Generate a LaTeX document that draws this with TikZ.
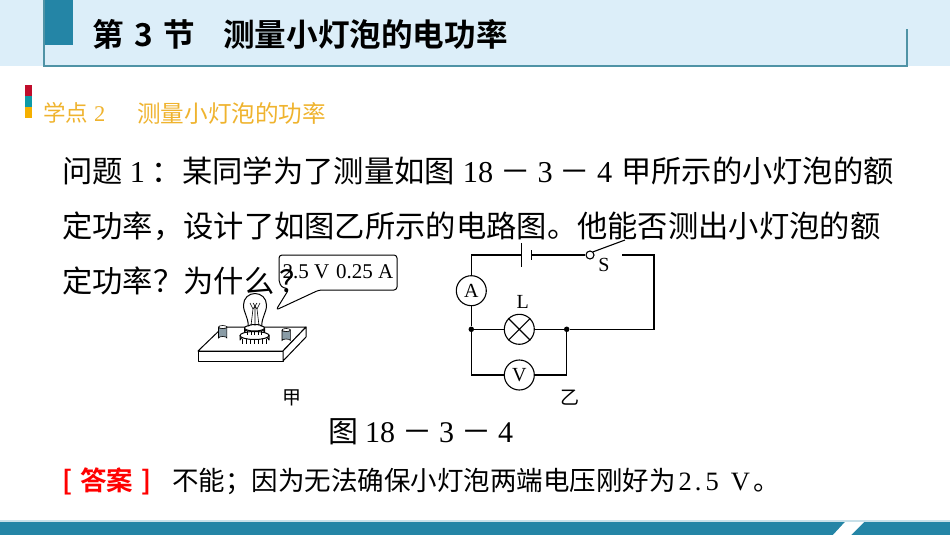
\documentclass[tikz,border=0pt]{standalone}
\usepackage{fontspec}
\setmainfont{Liberation Serif}
\newfontfamily\cjk{Noto Sans CJK SC}
\newfontfamily\cjkb{Noto Sans CJK SC Bold}
\definecolor{hdrbg}{HTML}{DCEEF9}
\definecolor{teal1}{HTML}{2485A6}
\definecolor{frameln}{HTML}{4F93A6}
\definecolor{gold1}{HTML}{EFB32E}
\definecolor{red1}{HTML}{C00D2C}
\definecolor{teal2}{HTML}{0E9AA7}
\definecolor{yel1}{HTML}{F5B000}
\definecolor{cylfill}{HTML}{8A9CA6}
\newcommand{\fs}[1]{\fontsize{#1}{#1}\selectfont}
\newcommand{\dnum}{{\rmfamily 18}\hspace{7pt}{\cjk －}\hspace{7pt}{\rmfamily 3}\hspace{7pt}{\cjk －}\hspace{7pt}{\rmfamily 4}}
\tikzset{
  txt/.style={inner sep=0pt,anchor=west,text=black},
  body/.style={txt,font=\fs{30.3}},
  small/.style={inner sep=0pt,font=\fs{19}},
  meter/.style={circle,draw,line width=1.1pt,minimum size=30pt,inner sep=0pt,font=\fs{20}},
  wire/.style={line width=1.1pt},
  dotj/.style={circle,fill=black,inner sep=0pt,minimum size=5.5pt},
  art/.style={line width=1pt,line join=round},
}
\begin{document}
\begin{tikzpicture}[x=1pt,y=-1pt]
\useasboundingbox (0,0) rectangle (950,535);
% header
\fill[hdrbg] (0,0) rectangle (950,66);
\fill[teal1] (44,0) rectangle (73,45.5);
\draw[frameln,line width=1.7pt] (44,0) -- (44,66.3) -- (907,66.3) -- (907,29);
\node[txt,font=\fs{31.6}] (title1) at (92.5,34) {\cjkb 第\hspace{3pt} 3\hspace{3pt} 节};
\node[txt,font=\fs{31.6}] (title2) at (223,34) {\cjkb 测量小灯泡的电功率};
% subheading
\fill[red1] (25,85) rectangle (32,96);
\fill[teal2] (25,96) rectangle (32,107);
\fill[yel1] (25,107) rectangle (32,118);
\node[txt,font=\fs{22.5},text=gold1] (sub1) at (43,113) {\cjk 学点\hspace{6pt}{\rmfamily 2}};
\node[txt,font=\fs{23.6},text=gold1] (sub2) at (137,113) {\cjk 测量小灯泡的功率};
% question
\node[body] (q1) at (62,171) {\cjk 问题\hspace{7pt}{\rmfamily 1}\hspace{7pt}：某同学为了测量如图\hspace{8pt}\dnum\hspace{9pt}甲所示的小灯泡的额};
\node[body] (q2) at (62,226) {\cjk 定功率，设计了如图乙所示的电路图。他能否测出小灯泡的额};
\node[body] (q3) at (62,281) {\cjk 定功率？为什么\hspace{5pt}？};
% callout
\draw[art,rounded corners=3pt] (279,280) -- (279,255) -- (397,255) -- (397,290) -- (319,290) -- (276,310) -- (289,289) -- (281,287) -- (279,280);
\node[inner sep=0pt,font=\fs{21}] (spec) at (338,272) {2.5 V\hspace{7pt}0.25 A};
% bulb board
\draw[art,fill=white] (198,351) -- (223,327) -- (306,327) -- (283,351) -- cycle;
\draw[art,fill=white] (198,351) -- (283,351) -- (283,361) -- (198,361) -- cycle;
\draw[art,fill=white] (283,351) -- (306,327) -- (306,337) -- (283,361) -- cycle;
% terminals
\draw[line width=0.6pt,fill=cylfill] (218.5,327) -- (218.5,338) arc[start angle=180,end angle=360,x radius=4.2,y radius=1.5] -- (226.9,327) arc[start angle=0,end angle=180,x radius=4.2,y radius=1.5];
\draw[line width=0.6pt,fill=white] (222.7,327) ellipse[x radius=4.2,y radius=1.5];
\draw[line width=0.6pt,fill=cylfill] (282,330) -- (282,340.5) arc[start angle=180,end angle=360,x radius=4.2,y radius=1.5] -- (290.4,330) arc[start angle=0,end angle=180,x radius=4.2,y radius=1.5];
\draw[line width=0.6pt,fill=white] (286.2,330) ellipse[x radius=4.2,y radius=1.5];
% bulb base
\draw[art,fill=white] (240,335) -- (240,340) arc[start angle=180,end angle=360,x radius=14.5,y radius=4.5] -- (269,335) arc[start angle=0,end angle=180,x radius=14.5,y radius=4];
\draw[art,fill=white] (254.5,335.5) ellipse[x radius=14.5,y radius=4];
\foreach \dx in {-12,-8,-4,0,4,8,12} \draw[line width=0.5pt] (254.5+\dx,339) -- (254.5+\dx,344);
\draw[art,fill=white] (244.5,328) -- (244.5,332) arc[start angle=180,end angle=360,x radius=10,y radius=3] -- (264.5,328);
\draw[art,fill=white] (254.5,328) ellipse[x radius=10,y radius=3];
\foreach \dx in {-7,-3.5,0,3.5,7} \draw[line width=0.5pt] (254.5+\dx,331) -- (254.5+\dx,334.5);
% glass
\draw[art,fill=white] (248.3,326) .. controls (248,316) and (243.5,313) .. (243.5,305)
  .. controls (243.5,298) and (249,293.5) .. (255,293.5)
  .. controls (261,293.5) and (266.5,298) .. (266.5,305)
  .. controls (266.5,313) and (262,316) .. (261.7,326);
\draw[line width=0.6pt] (251,325.5) -- (253,309) -- (250,303) (259,325.5) -- (257,309) -- (260,303);
\draw[line width=0.6pt] (255,325.5) -- (255,306) (253,309) -- (257,303) (257,309) -- (253,303);
\draw[art] (248.3,326) arc[start angle=180,end angle=360,x radius=6.7,y radius=1.5];
\node[small] (jia) at (292,398) {\cjk 甲};
% circuit
\node[meter] (A) at (471.3,290.7) {A};
\node[meter] (L) at (519.3,329.3) {};
\draw[wire] (L.45) -- (L.225) (L.135) -- (L.315);
\node[meter] (V) at (519.3,375) {V};
\node[circle,draw,line width=1.1pt,minimum size=8pt,inner sep=0pt] (sw) at (590,255) {};
\node[dotj] (jl) at (471.3,329.3) {};
\node[dotj] (jr) at (566.7,329.3) {};
\coordinate (plong) at (521.7,255);
\coordinate (pshort) at (531.7,255);
\coordinate (swend) at (622.3,255);
\coordinate (levend) at (625,240);
\coordinate (tl) at (471.3,255);
\coordinate (tr) at (654,255);
\coordinate (mr) at (654,329.3);
\coordinate (bl) at (471.3,375);
\coordinate (br) at (566.7,375);
\draw[wire] (plong) -- (tl) -- (A.north);
\draw[wire] (A.south) -- (jl) -- (L.west);
\draw[wire] (L.east) -- (jr) -- (mr) -- (tr) -- (swend);
\draw[wire] (jl) -- (bl) -- (V.west);
\draw[wire] (V.east) -- (br) -- (jr);
\draw[wire] (pshort) -- (sw.west);
\draw[wire] (sw.north east) -- (levend);
\draw[wire] (521.7,243.3) -- (521.7,267.3);
\draw[wire] (531.7,250) -- (531.7,260);
\node[small,font=\fs{20}] (lbS) at (604,265) {S};
\node[small,font=\fs{20}] (lbL) at (522.7,301.7) {L};
\node[small] (yi) at (570,398) {\cjk 乙};
\node[txt,font=\fs{30}] (cap) at (328,432) {\cjk 图\hspace{7pt}\dnum};
% answer
\node[txt,font=\fs{26.5},text=red] (ansl) at (62,481) {\cjkb [\hspace{8pt}答案\hspace{8pt}]};
\node[txt,font=\fs{26.5}] (ans) at (172,481) {\cjk 不能；因为无法确保小灯泡两端电压刚好为\hspace{3pt}{\rmfamily 2\hspace{3pt}.\hspace{4pt}5\hspace{12pt}V}\hspace{4pt}。};
% footer
\fill[teal1!25] (0,519.5) rectangle (950,522);
\fill[teal1] (0,522) rectangle (950,535);
\fill[white] (845,522) -- (864,522) -- (851,535) -- (833,535) -- cycle;
\end{tikzpicture}
\end{document}
